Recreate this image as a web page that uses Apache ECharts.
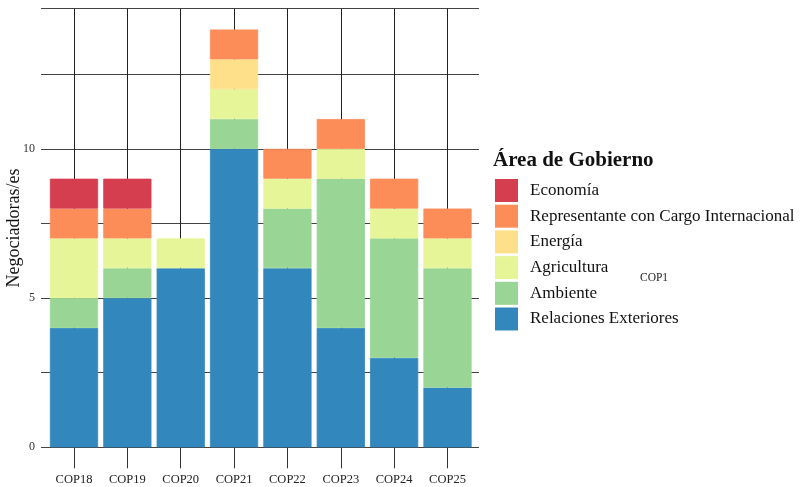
<!DOCTYPE html>
<html><head><meta charset="utf-8">
<script src="https://cdn.jsdelivr.net/npm/echarts@6/dist/echarts.min.js"></script>
<style>html,body{margin:0;padding:0;background:#fff}#c{width:809px;height:487px}</style>
</head><body><div id="c"></div>
<script>
const categories = ['COP18','COP19','COP20','COP21','COP22','COP23','COP24','COP25'];
const relaciones = [4,5,6,10,6,4,3,2];
const ambiente = [1,1,0,1,2,5,4,4];
const agricultura = [2,1,1,1,1,1,1,1];
const energia = [0,0,0,1,0,0,0,0];
const representante = [1,1,0,1,1,1,1,1];
const economia = [1,1,0,0,0,0,0,0];
const yTicks = [0,5,10];
const legendTitle = 'Área de Gobierno';
const seriesNames = ['Relaciones Exteriores','Ambiente','Agricultura','Energía','Representante con Cargo Internacional','Economía'];
const seriesData = [relaciones, ambiente, agricultura, energia, representante, economia];
const colors = ['#3288BD','#99D594','#E6F598','#FEE08B','#FC8D59','#D53E4F'];

const FONT = '"Liberation Serif", "DejaVu Serif", serif';
const TOP = 8.6, BOTTOM = 487 - 447.3;

const chart = echarts.init(document.getElementById('c'));
chart.setOption({
  animation: false,
  textStyle: {fontFamily: FONT},
  grid: [
    {left: 41, width: 438, top: TOP, bottom: BOTTOM, containLabel: false, outerBoundsMode: 'none'},
    {left: 74, width: 373.5, top: TOP, bottom: BOTTOM, containLabel: false, outerBoundsMode: 'none'}
  ],
  xAxis: [
    {gridIndex: 0, type: 'value', min: 0, max: 1, show: false},
    {gridIndex: 1, type: 'category', data: categories, boundaryGap: false,
     axisLine: {show: false},
     axisTick: {show: true, length: 21, lineStyle: {color: '#333', width: 1}},
     axisLabel: {margin: 26, fontFamily: FONT, fontSize: 12.5, color: '#222'},
     splitLine: {show: true, lineStyle: {color: '#222', width: 1}}}
  ],
  yAxis: [
    {gridIndex: 0, type: 'value', min: 0, max: 14.7, interval: 2.5,
     name: 'Negociadoras/es', nameLocation: 'middle', nameGap: 18, nameMoveOverlap: false,
     nameTextStyle: {fontFamily: FONT, fontSize: 18, color: '#111'},
     axisLine: {show: false}, axisTick: {show: false},
     axisLabel: {margin: 6, fontFamily: FONT, fontSize: 12, color: '#333',
       formatter: v => yTicks.includes(v) ? String(v) : ''},
     splitLine: {show: true, lineStyle: {color: '#444', width: 1.2}}},
    {gridIndex: 1, type: 'value', min: 0, max: 14.7, show: false, splitLine: {show: false}}
  ],
  legend: {
    orient: 'vertical', left: 495, top: 179, padding: 0, itemWidth: 23, itemHeight: 23, itemGap: 2.7,
    icon: 'rect', data: seriesNames.slice().reverse(),
    itemStyle: {borderWidth: 0},
    textStyle: {fontFamily: FONT, fontSize: 17, color: '#111', padding: [0,0,0,7]}
  },
  title: {text: legendTitle, left: 493, top: 150, padding: 0,
    textStyle: {fontFamily: FONT, fontSize: 21, fontWeight: 'bold', color: '#111'}},
  graphic: [{type: 'text', left: 640, top: 272,
    style: {text: 'COP1', font: '11.5px ' + FONT, fill: '#222'}}],
  series: seriesNames.map((n, i) => ({
    name: n, type: 'bar', stack: 'total', xAxisIndex: 1, yAxisIndex: 1,
    data: seriesData[i].map(v => v === 0 ? '-' : v), barWidth: 48.2, clip: false,
    itemStyle: {color: colors[i], borderColor: colors[i], borderWidth: 0.8}
  }))
});
</script></body></html>
